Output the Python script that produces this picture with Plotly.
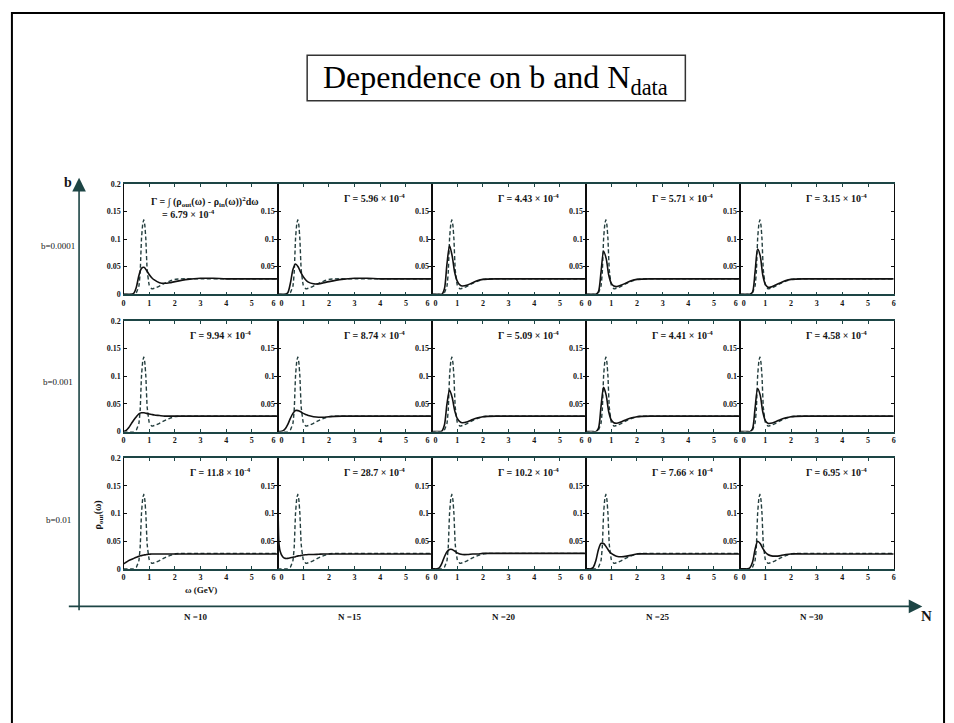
import plotly.graph_objects as go

W, H = 954, 723

# ---------------- data ----------------
N_values = ["N =10", "N =15", "N =20", "N =25", "N =30"]
b_values = ["b=0.0001", "b=0.001", "b=0.01"]

omega_in = [0, 0.4, 0.5, 0.6, 0.65, 0.7, 0.75, 0.79, 0.83, 0.87, 0.92, 1.0, 1.1, 1.2,
            1.4, 1.6, 1.8, 2.0, 2.2, 3.0, 4.0, 5.0, 6.0]
rho_in = [0, 0, 0.003, 0.015, 0.04, 0.10, 0.128, 0.135, 0.125, 0.10, 0.045, 0.017, 0.010,
          0.011, 0.015, 0.020, 0.024, 0.027, 0.028, 0.028, 0.028, 0.028, 0.028]

omega = [0, 0.05, 0.1, 0.2, 0.3, 0.4, 0.5, 0.6, 0.7, 0.8, 0.9, 1.0, 1.1, 1.2, 1.4, 1.6,
         1.8, 2.0, 2.5, 3.0, 3.5, 4.0, 5.0, 6.0]

rho_out_b0001_N10 = [0, 0, 0, 0, 0, 0.002, 0.013, 0.034, 0.047, 0.049, 0.043, 0.036, 0.030, 0.026,
                     0.021, 0.020, 0.021, 0.023, 0.027, 0.029, 0.029, 0.028, 0.028, 0.028]
rho_out_b0001_N15 = [0, 0, 0, 0, 0, 0.003, 0.020, 0.045, 0.055, 0.050, 0.040, 0.032, 0.026, 0.022,
                     0.019, 0.019, 0.021, 0.023, 0.027, 0.029, 0.029, 0.028, 0.028, 0.028]
rho_out_b0001_N20 = [0, 0, 0, 0, 0, 0, 0.010, 0.055, 0.088, 0.070, 0.040, 0.024, 0.017, 0.015,
                     0.017, 0.021, 0.025, 0.027, 0.028, 0.028, 0.028, 0.028, 0.028, 0.028]
rho_out_b0001_N25 = [0, 0, 0, 0, 0, 0, 0.005, 0.040, 0.078, 0.065, 0.035, 0.020, 0.015, 0.014,
                     0.017, 0.021, 0.025, 0.027, 0.028, 0.028, 0.028, 0.028, 0.028, 0.028]
rho_out_b0001_N30 = [0, 0, 0, 0, 0, 0, 0.004, 0.040, 0.082, 0.070, 0.035, 0.018, 0.013, 0.013,
                     0.017, 0.021, 0.025, 0.027, 0.028, 0.028, 0.028, 0.028, 0.028, 0.028]

rho_out_b001_N10 = [0, 0.001, 0.002, 0.007, 0.014, 0.021, 0.027, 0.032, 0.034, 0.034, 0.033, 0.032,
                    0.031, 0.030, 0.029, 0.028, 0.028, 0.028, 0.028, 0.028, 0.028, 0.028, 0.028, 0.028]
rho_out_b001_N15 = [0, 0, 0, 0.001, 0.005, 0.013, 0.024, 0.033, 0.038, 0.038, 0.036, 0.033, 0.031,
                    0.029, 0.027, 0.026, 0.026, 0.027, 0.028, 0.028, 0.028, 0.028, 0.028, 0.028]
rho_out_b001_N20 = [0, 0, 0, 0, 0, 0.001, 0.012, 0.050, 0.075, 0.062, 0.038, 0.024, 0.018, 0.016,
                    0.018, 0.022, 0.025, 0.027, 0.028, 0.028, 0.028, 0.028, 0.028, 0.028]
rho_out_b001_N25 = [0, 0, 0, 0, 0, 0, 0.006, 0.045, 0.080, 0.066, 0.036, 0.021, 0.016, 0.015,
                    0.018, 0.022, 0.025, 0.027, 0.028, 0.028, 0.028, 0.028, 0.028, 0.028]
rho_out_b001_N30 = [0, 0, 0, 0, 0, 0, 0.005, 0.042, 0.078, 0.066, 0.036, 0.020, 0.015, 0.015,
                    0.018, 0.022, 0.025, 0.027, 0.028, 0.028, 0.028, 0.028, 0.028, 0.028]

rho_out_b01_N10 = [0.009, 0.0105, 0.012, 0.015, 0.017, 0.019, 0.021, 0.023, 0.024, 0.025, 0.026,
                   0.0265, 0.027, 0.027, 0.027, 0.027, 0.027, 0.027, 0.027, 0.027, 0.027, 0.027, 0.027, 0.027]
rho_out_b01_N15 = [0.45, 0.05, 0.032, 0.022, 0.019, 0.019, 0.020, 0.021, 0.022, 0.0235, 0.024, 0.025,
                   0.0255, 0.026, 0.026, 0.0265, 0.027, 0.027, 0.027, 0.027, 0.027, 0.027, 0.027, 0.027]
rho_out_b01_N20 = [0, 0, 0, 0, 0.002, 0.010, 0.022, 0.031, 0.035, 0.035, 0.032, 0.029, 0.027, 0.026,
                   0.026, 0.027, 0.027, 0.028, 0.028, 0.028, 0.028, 0.028, 0.028, 0.028]
rho_out_b01_N25 = [0, 0, 0, 0, 0.003, 0.015, 0.035, 0.046, 0.046, 0.040, 0.033, 0.028, 0.025, 0.023,
                   0.022, 0.023, 0.025, 0.027, 0.027, 0.027, 0.027, 0.027, 0.027, 0.027]
rho_out_b01_N30 = [0, 0, 0, 0, 0, 0.002, 0.012, 0.035, 0.050, 0.046, 0.037, 0.030, 0.026, 0.024,
                   0.023, 0.024, 0.026, 0.027, 0.027, 0.027, 0.027, 0.027, 0.027, 0.027]

gamma_b0001 = ["6.79", "5.96", "4.43", "5.71", "3.15"]
gamma_b001 = ["9.94", "8.74", "5.09", "4.41", "4.58"]
gamma_b01 = ["11.8", "28.7", "10.2", "7.66", "6.95"]

x_ticks = [0, 1, 2, 3, 4, 5, 6]
y_ticks_first = [0, 0.05, 0.1, 0.15, 0.2]
y_ticktext_first = ["0", "0.05", "0.1", "0.15", "0.2"]
y_ticks_other = [0.05, 0.1, 0.15]
y_ticktext_other = ["0.05", "0.1", "0.15"]

rho_out_rows = [
    [rho_out_b0001_N10, rho_out_b0001_N15, rho_out_b0001_N20, rho_out_b0001_N25, rho_out_b0001_N30],
    [rho_out_b001_N10, rho_out_b001_N15, rho_out_b001_N20, rho_out_b001_N25, rho_out_b001_N30],
    [rho_out_b01_N10, rho_out_b01_N15, rho_out_b01_N20, rho_out_b01_N25, rho_out_b01_N30],
]
gamma_rows = [gamma_b0001, gamma_b001, gamma_b01]

# ---------------- layout geometry (pixels) ----------------
col_left = [119, 275, 431, 587, 743]
col_w = 156
row_top = [182, 321, 460]
row_h = 112

def px(x):
    return x / W

def py(y):
    return 1 - y / H

SERIF = "Liberation Serif"
HLINE = "#1d4545"
VLINE = "#0d0d0d"
TXT = "#151515"
NB = "\u00a0"

def tfont(size, bold=True, color=TXT):
    return dict(family=SERIF, size=size, color=color, weight="bold" if bold else "normal")

fig = go.Figure()
layout = dict(
    width=W, height=H, margin=dict(l=0, r=0, t=0, b=0),
    paper_bgcolor="white", plot_bgcolor="white", showlegend=False,
    font=dict(family=SERIF, color=TXT),
)
annotations = []
shapes = []

def note(x, y, text, font, **kw):
    d = dict(x=px(x), y=py(y), xref="paper", yref="paper", showarrow=False,
             text=text, font=font, xanchor="center", yanchor="middle")
    d.update(kw)
    annotations.append(d)

k = 0
for r in range(3):
    for c in range(5):
        k += 1
        xa = "x" if k == 1 else f"x{k}"
        ya = "y" if k == 1 else f"y{k}"
        fig.add_trace(go.Scatter(x=omega_in, y=rho_in, xaxis=xa, yaxis=ya, mode="lines",
                                 line=dict(color="#243e3e", width=1.4, dash="4px,2.5px",
                                           shape="spline", smoothing=0.3),
                                 hoverinfo="skip"))
        fig.add_trace(go.Scatter(x=omega, y=rho_out_rows[r][c], xaxis=xa, yaxis=ya, mode="lines",
                                 line=dict(color="#111111", width=1.6, shape="spline", smoothing=0.8),
                                 hoverinfo="skip"))
        x0 = col_left[c]
        y0 = row_top[r]
        xkey = "xaxis" if k == 1 else f"xaxis{k}"
        ykey = "yaxis" if k == 1 else f"yaxis{k}"
        xt = [str(t) for t in x_ticks]
        if c > 0:
            xt[0] = NB * 4 + "0"
        if c < 4:
            xt[-1] = "6" + NB * 4
        layout[xkey] = dict(
            domain=[px(x0), px(x0 + col_w)], anchor=ya, range=[0, 6],
            tickvals=x_ticks, ticktext=xt,
            showline=True, linecolor=HLINE, linewidth=1.6, mirror="ticks",
            ticks="inside", ticklen=3, tickwidth=1.3, tickcolor=HLINE,
            tickfont=tfont(8),
            showgrid=False, zeroline=False, fixedrange=True,
        )
        layout[ykey] = dict(
            domain=[py(y0 + row_h), py(y0)], anchor=xa, range=[0, 0.2],
            tickvals=y_ticks_first if c == 0 else y_ticks_other,
            ticktext=y_ticktext_first if c == 0 else y_ticktext_other,
            showline=True, linecolor=VLINE, linewidth=1.2, mirror="ticks",
            ticks="inside", ticklen=3, tickwidth=1.3, tickcolor=VLINE,
            tickfont=tfont(8),
            showgrid=False, zeroline=False, fixedrange=True,
        )
        # Gamma label
        if r == 0 and c == 0:
            note(x0 + 26, y0 + 18,
                 "Γ = ∫ (ρ<sub>out</sub>(ω) - ρ<sub>in</sub>(ω))<sup>2</sup>dω",
                 tfont(10), xanchor="left")
            note(x0 + 37, y0 + 31, f"= {gamma_rows[r][c]} × 10<sup>-4</sup>",
                 tfont(10), xanchor="left")
        else:
            note(x0 + col_w * 0.63, y0 + 14, f"Γ = {gamma_rows[r][c]} × 10<sup>-4</sup>",
                 tfont(10))

# row labels
row_label_y = [245, 383, 523]
for r in range(3):
    note(53, row_label_y[r], b_values[r], tfont(9, bold=False))
# column labels
for c in range(5):
    note(col_left[c] + col_w / 2 - 5, 621, N_values[c], tfont(9))

# axis titles inside first panel of last row
note(197, 593, "ω (GeV)", tfont(9))
note(94, 517, "ρ<sub>out</sub>(ω)", tfont(10), textangle=-90)

# big b / N arrows
annotations.append(dict(x=px(74), y=py(176), xref="paper", yref="paper", ax=0, ay=434,
                        text="", showarrow=True,
                        arrowhead=2, arrowsize=1.7, arrowwidth=1.6, arrowcolor=HLINE))
annotations.append(dict(x=px(928), y=py(610), xref="paper", yref="paper", ax=-855, ay=0,
                        text="", showarrow=True,
                        arrowhead=2, arrowsize=1.7, arrowwidth=1.6, arrowcolor=HLINE))
note(63, 181, "b", tfont(14))
note(932, 620, "N", tfont(15))

# title
note(496, 76, "Dependence on b and N<sub>data</sub>", tfont(32, bold=False, color="#000000"))
shapes.append(dict(type="rect", xref="paper", yref="paper",
                   x0=px(305), x1=px(688), y0=py(98), y1=py(52),
                   line=dict(color="#333333", width=1.5)))
# slide border
shapes.append(dict(type="rect", xref="paper", yref="paper",
                   x0=px(6), x1=px(950), y0=py(740), y1=py(9),
                   line=dict(color="#000000", width=2)))

layout["annotations"] = annotations
layout["shapes"] = shapes
fig.update_layout(**layout)
fig.write_html("out.html")
